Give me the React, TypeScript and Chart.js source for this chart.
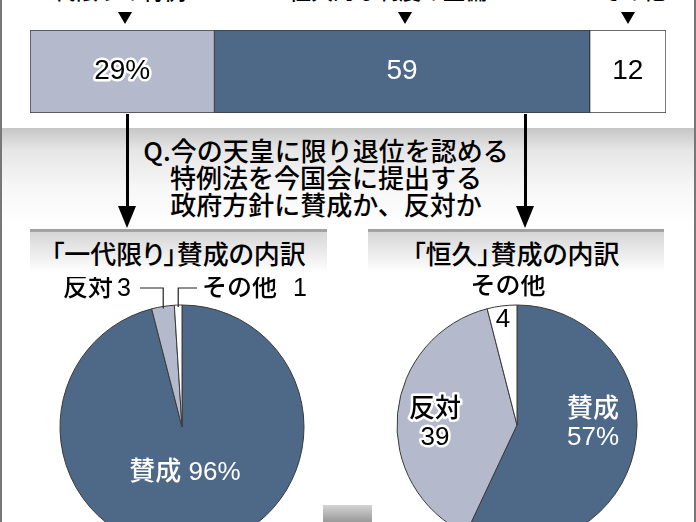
import React, { useEffect, useRef } from "react";
import { Chart, registerables } from "chart.js";

Chart.register(...registerables);

const DARK = "#4e6888";
const LIGHT = "#b4bacb";
const WHITE = "#ffffff";
const EDGE = "#3a3a3a";
const FONT = '"Liberation Sans", "Noto Sans CJK JP", sans-serif';
const JP = '"Noto Sans CJK JP", sans-serif';
const WEIGHT = 500;

// 退位のあり方(上の帯グラフ)
const barCategories = ["一代限りの特例", "恒久的な制度の整備", "その他"];
const barValues = [29, 59, 12];
const barColors = [LIGHT, DARK, WHITE];

// 「一代限り」賛成の内訳
const leftCategories = ["賛成", "反対", "その他"];
const leftValues = [96, 3, 1];

// 「恒久」賛成の内訳
const rightCategories = ["賛成", "反対", "その他"];
const rightValues = [57, 39, 4];

const pieColors = [DARK, LIGHT, WHITE];
const question = ["Q.今の天皇に限り退位を認める", "特例法を今国会に提出する", "政府方針に賛成か、反対か"];
const leftTitle = "「一代限り」賛成の内訳";
const rightTitle = "「恒久」賛成の内訳";

function drawText(ctx: CanvasRenderingContext2D, text: string, x: number, y: number,
    size: number, color: string, halo?: string, align: CanvasTextAlign = "center") {
    ctx.save();
    ctx.font = `${WEIGHT} ${size}px ${FONT}`;
    ctx.textAlign = align;
    ctx.textBaseline = "middle";
    if (halo) {
        ctx.lineJoin = "round";
        ctx.lineWidth = 5;
        ctx.strokeStyle = halo;
        ctx.strokeText(text, x, y);
    }
    ctx.fillStyle = color;
    ctx.fillText(text, x, y);
    ctx.restore();
}

const barLabels = {
    id: "barLabels",
    afterDatasetsDraw(chart: any) {
        const ctx = chart.ctx;
        chart.data.datasets.forEach((ds: any, i: number) => {
            const bar = chart.getDatasetMeta(i).data[0];
            const { x, y, base } = bar.getProps(["x", "y", "base"], true);
            const v = ds.data[0];
            const text = i === 0 ? `${v}%` : `${v}`;
            const fill = barColors[i] === DARK ? "#fff" : "#000";
            drawText(ctx, text, (x + base) / 2, y, 28, fill, i === 0 ? "#fff" : undefined);
        });
    },
};

function midPoint(arc: any, r: number) {
    const a = (arc.startAngle + arc.endAngle) / 2;
    return { x: arc.x + r * Math.cos(a), y: arc.y + r * Math.sin(a) };
}

const leftLabels = {
    id: "leftLabels",
    afterDatasetsDraw(chart: any) {
        const ctx = chart.ctx;
        const arcs = chart.getDatasetMeta(0).data;
        const cx = arcs[0].x, cy = arcs[0].y, r = arcs[0].outerRadius;
        drawText(ctx, `${leftCategories[0]} ${leftValues[0]}%`, cx + 3, cy + 46, 26, "#fff");

        const ly = cy - 139;
        ctx.save();
        ctx.strokeStyle = "#222";
        ctx.lineWidth = 1.2;
        const p1 = midPoint(arcs[1], r - 2);
        ctx.beginPath();
        ctx.moveTo(p1.x, p1.y);
        ctx.lineTo(p1.x, ly);
        ctx.lineTo(cx - 42, ly);
        ctx.stroke();
        const p2 = midPoint(arcs[2], r - 2);
        ctx.beginPath();
        ctx.moveTo(p2.x, p2.y);
        ctx.lineTo(p2.x, ly);
        ctx.lineTo(cx + 15, ly);
        ctx.stroke();
        ctx.restore();

        drawText(ctx, leftCategories[1], cx - 69, ly + 1, 25, "#000", undefined, "right");
        drawText(ctx, `${leftValues[1]}`, cx - 51, ly + 1, 25, "#000", undefined, "right");
        drawText(ctx, leftCategories[2], cx + 20, ly + 1, 25, "#000", undefined, "left");
        drawText(ctx, `${leftValues[2]}`, cx + 125, ly + 1, 25, "#000", undefined, "right");
    },
};

const rightLabels = {
    id: "rightLabels",
    afterDatasetsDraw(chart: any) {
        const ctx = chart.ctx;
        const arcs = chart.getDatasetMeta(0).data;
        const cx = arcs[0].x, cy = arcs[0].y;
        drawText(ctx, rightCategories[0], cx + 76, cy - 15, 26, "#fff");
        drawText(ctx, `${rightValues[0]}%`, cx + 76, cy + 13, 26, "#fff");
        drawText(ctx, rightCategories[1], cx - 82, cy - 15, 26, "#000", "#fff");
        drawText(ctx, `${rightValues[1]}`, cx - 82, cy + 13, 26, "#000", "#fff");
        drawText(ctx, `${rightValues[2]}`, cx - 14, cy - 105, 26, "#000");
        drawText(ctx, rightCategories[2], cx - 9, cy - 138, 25, "#000");
    },
};

function pieConfig(labels: string[], values: number[], radius: number, plugin: any): any {
    return {
        type: "pie",
        data: {
            labels,
            datasets: [{
                data: values,
                backgroundColor: pieColors,
                borderColor: EDGE,
                borderWidth: 1,
            }],
        },
        options: {
            animation: false,
            responsive: false,
            radius,
            layout: { padding: 0 },
            plugins: { legend: { display: false }, tooltip: { enabled: false } },
        },
        plugins: [plugin],
    };
}

const barConfig: any = {
    type: "bar",
    data: {
        labels: [""],
        datasets: barCategories.map((c, i) => ({
            label: c,
            data: [barValues[i]],
            backgroundColor: barColors[i],
            borderColor: EDGE,
            borderWidth: 1,
            borderSkipped: false,
            barPercentage: 1,
            categoryPercentage: 1,
        })),
    },
    options: {
        indexAxis: "y",
        animation: false,
        responsive: false,
        layout: { padding: 1 },
        plugins: { legend: { display: false }, tooltip: { enabled: false } },
        scales: {
            x: { stacked: true, min: 0, max: 100, display: false },
            y: { stacked: true, display: false },
        },
    },
    plugins: [barLabels],
};

const ChartCanvas = ({ config, style, width, height }: any) => {
    const canvas = useRef<HTMLCanvasElement>(null);
    useEffect(() => {
        const chart = new Chart(canvas.current!, config);
        return () => chart.destroy();
    }, []);
    return <canvas ref={canvas} width={width} height={height}
        style={{ position: "absolute", width, height, ...style }} />;
};

const abs = (left: number, top: number, width: number, height: number, extra?: any) => ({
    position: "absolute" as const, left, top, width, height, ...extra,
});

const Arrow = ({ x }: { x: number }) => (
    <>
        <div style={abs(x - 1.5, 114, 3, 96, { background: "#000" })} />
        <div style={abs(x - 9, 206, 0, 0, {
            borderLeft: "9px solid transparent", borderRight: "9px solid transparent",
            borderTop: "22px solid #000",
        })} />
    </>
);

const Marker = ({ x }: { x: number }) => (
    <div style={abs(x - 7, 12, 0, 0, {
        borderLeft: "7px solid transparent", borderRight: "7px solid transparent",
        borderTop: "12px solid #000",
    })} />
);

export default function App() {
    const topCenters = [109, 388, 633];
    const palt = { fontFeatureSettings: '"palt"' };
    return (
        <div style={{ position: "fixed", left: 0, top: 0, width: 696, height: 522,
            overflow: "hidden", background: "#fff", fontFamily: JP, fontWeight: WEIGHT }}>
            <div style={abs(0, 128, 696, 110, {
                background: "linear-gradient(#c6c6c6 0px, #e6e6e6 22px, #f7f7f7 60px, #ffffff 100px)" })} />
            <div style={abs(30, 229, 297, 40, {
                borderTop: "3px solid #a2a2a2",
                background: "linear-gradient(#d6d6d6, #ffffff)" })} />
            <div style={abs(368, 229, 296, 40, {
                borderTop: "3px solid #a2a2a2",
                background: "linear-gradient(#d6d6d6, #ffffff)" })} />
            <div style={abs(323, 505, 49, 17, { background: "linear-gradient(#d4d4d4, #999999)" })} />
            <div style={abs(0, 0, 2, 522, { background: "#777" })} />
            <div style={abs(694, 0, 2, 522, { background: "#777" })} />

            {barCategories.map((c, i) => (
                <div key={c} style={abs(topCenters[i] - 120, -26, 240, 30, {
                    textAlign: "center", fontSize: 22, lineHeight: "30px", whiteSpace: "nowrap" })}>
                    {c}
                </div>
            ))}
            <Marker x={125} />
            <Marker x={405} />
            <Marker x={628} />

            <Arrow x={127} />
            <Arrow x={525} />

            <div style={abs(0, 136, 652, 81, { textAlign: "center", fontSize: 26, lineHeight: "27px" })}>
                {question.map((q) => <div key={q}>{q}</div>)}
            </div>
            <div style={abs(30, 238, 297, 30, { textAlign: "center", fontSize: 26, lineHeight: "30px", ...palt })}>
                {leftTitle}
            </div>
            <div style={abs(368, 238, 296, 30, { textAlign: "center", fontSize: 26, lineHeight: "30px", ...palt })}>
                {rightTitle}
            </div>

            <ChartCanvas config={barConfig} width={638} height={85} style={{ left: 29, top: 29 }} />
            <ChartCanvas config={pieConfig(leftCategories, leftValues, 122, leftLabels)}
                width={300} height={300} style={{ left: 32, top: 277 }} />
            <ChartCanvas config={pieConfig(rightCategories, rightValues, 120, rightLabels)}
                width={300} height={300} style={{ left: 367, top: 275 }} />
        </div>
    );
}
